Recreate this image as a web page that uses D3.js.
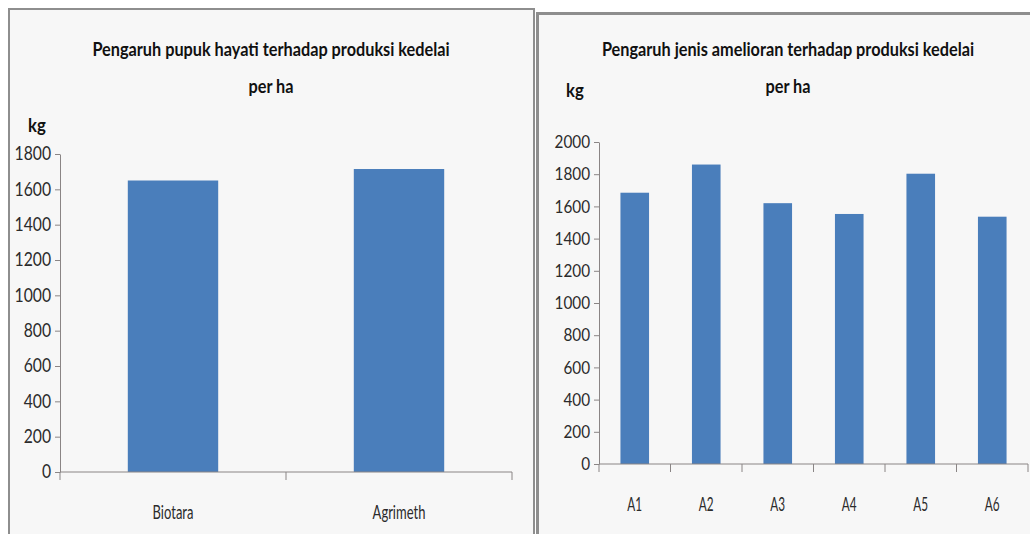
<!DOCTYPE html>
<html>
<head>
<meta charset="utf-8">
<script src="https://cdn.jsdelivr.net/npm/d3@7"></script>
<style>
  body { margin: 0; background: #fff; }
  svg { display: block; font-family: Lato, "Open Sans", sans-serif; }
</style>
</head>
<body>
<svg id="chart" width="1030" height="534"></svg>
<script>
// left chart: biofertilizer
var pupukCategories = ["Biotara", "Agrimeth"];
var pupukValues = [1650, 1715];
var pupukTicks = [0, 200, 400, 600, 800, 1000, 1200, 1400, 1600, 1800];

// right chart: ameliorant type
var amelioranCategories = ["A1", "A2", "A3", "A4", "A5", "A6"];
var amelioranValues = [1685, 1860, 1620, 1553, 1803, 1536];
var amelioranTicks = [0, 200, 400, 600, 800, 1000, 1200, 1400, 1600, 1800, 2000];

var svg = d3.select("#chart");

// the original text is narrow (Calibri, squashed picture), so squeeze Lato sideways
function place(x, y, sx) {
    return "translate(" + x + "," + y + ") scale(" + sx + ",1)";
}

function drawPanel(p) {
    // panel frame
    svg.append("rect")
        .attr("x", p.frame[0]).attr("y", p.frame[1])
        .attr("width", p.frame[2]).attr("height", p.frame[3])
        .attr("fill", "#f7f7f7")
        .attr("stroke", "#8e8e8e")
        .attr("stroke-width", p.frameStroke);

    var x = d3.scaleBand()
        .domain(p.categories)
        .range([p.left, p.right])
        .paddingInner(0.6)
        .paddingOuter(0.3);

    var y = d3.scaleLinear()
        .domain([0, d3.max(p.ticks)])
        .range([p.bottom, p.top]);

    // bars
    svg.selectAll(null)
        .data(p.values).enter().append("rect")
        .attr("x", function(d, i) { return x(p.categories[i]); })
        .attr("y", function(d) { return y(d); })
        .attr("width", x.bandwidth())
        .attr("height", function(d) { return y(0) - y(d); })
        .attr("fill", "#4a7ebb");

    // y axis
    var yAxis = svg.append("g")
        .attr("transform", "translate(" + p.left + ",0)")
        .call(d3.axisLeft(y).tickValues(p.ticks).tickFormat(d3.format("d"))
            .tickSize(5).tickPadding(5).tickSizeOuter(0))
        .attr("font-family", null);
    yAxis.select(".domain").attr("stroke", "#8a8585");
    yAxis.selectAll(".tick line").attr("stroke", "#8a8585");
    yAxis.selectAll(".tick text")
        .attr("x", 0)
        .attr("transform", place(-9, 0, 0.85))
        .attr("fill", "#2b2b2b")
        .style("font-size", p.tickFont + "px");

    // x axis: ticks between categories, labels at band centres
    var step = x.step();
    var bounds = d3.range(p.categories.length + 1).map(function(i) { return p.left + i * step; });
    svg.append("line")
        .attr("x1", p.left).attr("x2", p.right)
        .attr("y1", p.bottom).attr("y2", p.bottom)
        .attr("stroke", "#8a8585");
    svg.selectAll(null)
        .data(bounds).enter().append("line")
        .attr("x1", function(d) { return d; }).attr("x2", function(d) { return d; })
        .attr("y1", p.bottom).attr("y2", p.bottom + 8)
        .attr("stroke", "#8a8585");
    svg.selectAll(null)
        .data(p.categories).enter().append("text")
        .attr("transform", function(d) { return place(x(d) + x.bandwidth() / 2, p.labelY, p.labelSqueeze); })
        .attr("text-anchor", "middle")
        .attr("dy", "0.35em")
        .attr("fill", "#2b2b2b")
        .style("font-size", p.labelFont + "px")
        .text(function(d) { return d; });

    // title, two lines
    svg.selectAll(null)
        .data(p.title).enter().append("text")
        .attr("transform", function(d, i) { return place(p.titleX, 50 + i * 37, 0.88); })
        .attr("dy", "0.35em")
        .attr("text-anchor", "middle")
        .attr("font-weight", "bold")
        .attr("fill", "#111")
        .style("font-size", "18.5px")
        .text(function(d) { return d; });

    // unit label
    svg.append("text")
        .attr("transform", place(p.unit[0], p.unit[1], 0.88))
        .attr("dy", "0.35em")
        .attr("text-anchor", "middle")
        .attr("font-weight", "bold")
        .attr("fill", "#111")
        .style("font-size", "19px")
        .text("kg");
}

drawPanel({
    frame: [9, 9, 525, 540], frameStroke: 2,
    categories: pupukCategories, values: pupukValues, ticks: pupukTicks,
    left: 60, right: 512, top: 154, bottom: 472,
    labelY: 512, tickFont: 18.5, labelFont: 20, labelSqueeze: 0.65,
    title: ["Pengaruh pupuk hayati terhadap produksi kedelai", "per ha"], titleX: 271,
    unit: [37, 125]
});

drawPanel({
    frame: [537.5, 13.5, 500, 530], frameStroke: 3,
    categories: amelioranCategories, values: amelioranValues, ticks: amelioranTicks,
    left: 599, right: 1028, top: 142, bottom: 464,
    labelY: 504, tickFont: 18, labelFont: 19, labelSqueeze: 0.62,
    title: ["Pengaruh jenis amelioran terhadap produksi kedelai", "per ha"], titleX: 788,
    unit: [575, 90]
});
</script>
</body>
</html>
